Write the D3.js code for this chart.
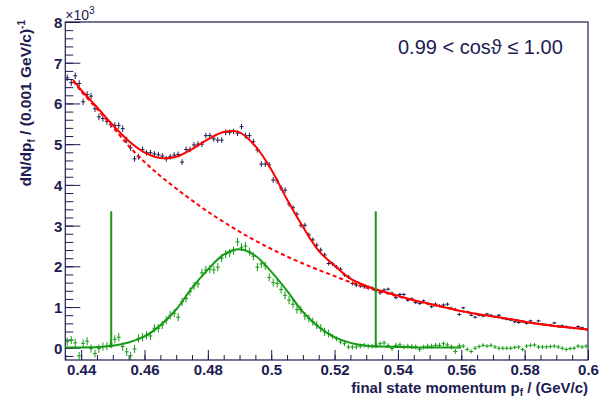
<!DOCTYPE html>
<html><head><meta charset="utf-8">
<script src="https://cdn.jsdelivr.net/npm/d3@7"></script>
<style>body{margin:0;background:#fff}svg{display:block}</style>
</head><body>
<script>
// ---------------- data ----------------
const histMin = 0.435, histMax = 0.6, nBins = 132;

const totalData = [6.63,6.51,6.68,6.49,6.04,6.22,6.18,5.87,5.67,5.63,5.56,5.48,5.46,5.46,5.38,5.10,4.91,4.64,4.69,4.87,
  4.79,4.79,4.76,4.74,4.71,4.64,4.69,4.73,4.75,4.56,4.87,4.87,4.98,5.00,5.00,5.21,5.21,5.13,5.10,5.10,
  5.29,5.29,5.31,5.27,5.43,5.21,5.21,5.06,4.86,4.51,4.51,4.49,4.12,4.10,3.92,3.87,3.53,3.44,3.28,3.01,
  3.01,2.77,2.65,2.52,2.40,2.28,2.07,2.06,1.98,1.93,1.79,1.74,1.58,1.54,1.52,1.50,1.48,1.46,1.40,1.35,
  1.42,1.44,1.34,1.23,1.31,1.31,1.17,1.20,1.11,1.09,1.15,1.09,1.01,1.07,1.03,1.05,1.07,0.97,0.94,0.82,
  0.98,0.88,0.80,0.75,0.80,0.78,0.83,0.80,0.76,0.80,0.72,0.70,0.68,0.64,0.62,0.64,0.60,0.66,0.60,0.66,
  0.58,0.56,0.56,0.61,0.53,0.54,0.52,0.49,0.48,0.52,0.49,0.45];
const totalErr = [0.08,0.08,0.08,0.08,0.08,0.08,0.08,0.08,0.08,0.08,0.08,0.08,0.08,0.08,0.08,0.08,0.08,
  0.07,0.07,0.07,0.07,0.07,0.07,0.07,0.07,0.07,0.07,0.07,0.07,0.07,0.07,0.07,0.07,0.07,0.07,0.07,0.07,0.07,0.07,0.07,
  0.07,0.07,0.07,0.07,0.07,0.07,0.07,0.07,0.07,0.07,0.07,0.07,0.07,0.07,0.07,0.07,
  0.06,0.06,0.06,0.06,0.06,0.06,0.06,0.06,0.06,0.06,
  0.05,0.05,0.05,0.05,0.05,0.05,0.05,0.05,0.05,0.05,0.05,0.05,0.05,0.05,
  0.04,0.04,0.04,0.04,0.04,0.04,0.04,0.04,0.04,0.04,0.04,0.04,0.04,0.04,0.04,0.04,0.04,0.04,0.04,0.04,
  0.03,0.03,0.03,0.03,0.03,0.03,0.03,0.03,0.03,0.03,0.03,0.03,0.03,0.03,0.03,0.03,
  0.03,0.03,0.03,0.03,0.03,0.03,0.03,0.03,0.03,0.03,0.03,0.03,0.03,0.03,0.03,0.03];

const signalData = [0.15,0.19,0.12,-0.20,0.11,0.16,-0.02,-0.14,-0.02,0.03,0.04,0.09,0.21,0.26,0.03,-0.10,-0.20,-0.03,0.23,0.26,
  0.31,0.29,0.48,0.48,0.56,0.68,0.80,0.85,0.75,1.13,1.21,1.38,1.52,1.57,1.84,1.91,1.93,1.91,1.98,2.20,
  2.30,2.33,2.38,2.60,2.47,2.50,2.36,2.25,1.98,2.06,2.01,1.73,1.60,1.58,1.43,1.29,1.17,1.07,0.94,0.93,
  0.78,0.72,0.64,0.56,0.48,0.39,0.35,0.28,0.22,0.14,0.10,0.02,0.02,0.02,0.04,0.06,0.04,0.04,0.06,0.10,
  0.12,0.05,-0.02,0.06,0.07,0.02,0.04,0.03,0.02,-0.04,0.02,0.04,0.04,0.06,0.06,0.10,0.07,0.02,-0.09,0.05,
  0.04,-0.04,-0.09,-0.01,0.03,0.06,0.04,0.06,0.02,-0.01,-0.01,-0.01,-0.01,0.01,0.02,-0.04,0.04,0.06,0.07,0.02,
  0.02,0.02,0.03,0.04,0.02,-0.01,-0.04,-0.02,-0.01,0.04,0.02,0.04];
const signalErr = [0.10,0.10,0.10,0.10,0.10,0.10,0.10,0.10,0.10,0.10,0.10,0.10,0.10,0.10,0.10,0.10,0.10,0.10,0.10,0.10,
  0.10,0.10,0.10,0.10,0.10,0.10,0.10,0.10,0.10,0.10,0.10,0.10,0.10,0.10,0.10,0.10,0.10,0.10,0.10,0.10,
  0.10,0.10,0.10,0.10,0.10,0.10,0.10,0.10,0.10,0.10,0.10,0.10,0.10,0.10,0.10,0.10,0.10,0.10,0.10,0.10,
  0.10,0.10,0.10,0.10,0.10,0.10,0.10,
  0.06,0.06,0.06,0.06,0.06,0.06,0.06,0.06,0.06,0.06,0.06,0.06,0.06,0.06,0.06,0.06,0.06,0.06,0.06,0.06,
  0.06,0.06,0.06,0.06,0.06,0.06,0.06,0.06,0.06,0.06,0.06,0.06,0.06,
  0.05,0.05,0.05,0.05,0.05,0.05,0.05,0.05,0.05,0.05,0.05,0.05,0.05,0.05,0.05,0.05,
  0.05,0.05,0.05,0.05,0.05,0.05,0.05,0.05,0.05,0.05,0.05,0.05,0.05,0.05,0.05,0.05];

const fitX = [0.4375,0.440,0.445,0.450,0.455,0.460,0.465,0.470,0.475,0.480,0.485,0.490,0.495,0.500,0.505,0.510,0.515,
  0.520,0.525,0.530,0.535,0.540,0.545,0.550,0.555,0.560,0.565,0.570,0.575,0.580,0.585,0.590,0.595,0.600];
const fitTotal = [6.57,6.33,5.91,5.47,5.08,4.80,4.66,4.69,4.88,5.12,5.30,5.29,4.95,4.38,3.64,2.97,2.38,
  2.02,1.70,1.52,1.39,1.28,1.17,1.08,0.99,0.90,0.83,0.77,0.71,0.64,0.58,0.53,0.49,0.45];
const fitBackground = [6.55,6.30,5.87,5.42,4.96,4.56,4.22,3.91,3.62,3.34,3.09,2.85,2.63,2.43,2.24,2.07,1.91,
  1.76,1.61,1.48,1.37,1.26,1.16,1.07,0.99,0.90,0.83,0.77,0.71,0.64,0.58,0.53,0.49,0.45];

const sigFitX = [0.435,0.440,0.445,0.450,0.455,0.460,0.465,0.470,0.475,0.480,0.485,0.490,0.495,0.500,0.505,0.510,0.515,
  0.520,0.525,0.530,0.535,0.540,0.545,0.550,0.555,0.560];
const sigFit = [0.01,0.01,0.02,0.05,0.13,0.28,0.55,0.94,1.47,1.92,2.29,2.42,2.26,1.87,1.40,0.88,0.51,
  0.26,0.12,0.05,0.03,0.02,0.01,0.01,0.01,0.01];

const windowLines = [0.4495, 0.533];
const windowTop = 3.35;

const xTickValues = [0.44,0.46,0.48,0.50,0.52,0.54,0.56,0.58,0.60];
const xTickLabels = ["0.44","0.46","0.48","0.5","0.52","0.54","0.56","0.58","0.6"];
const yTickValues = [0,1,2,3,4,5,6,7,8];
const yTickLabels = ["0","1","2","3","4","5","6","7","8"];

const xTitle = "final state momentum p";
const yTitle = "dN/dp";
const rangeLabel = "0.99 < cos\u03D1 \u2264 1.00";

// ---------------- drawing ----------------
const W = 606, H = 401;
const L = 65.3, R = 588, T = 22, B = 360;
const navy = "#1c1c52", red = "#ff0000", green = "#169a16";
const FONT = "'Liberation Sans', Arial, Helvetica, sans-serif";

const svg = d3.select("body").append("svg").attr("width", W).attr("height", H)
  .style("font-family", FONT);
svg.append("rect").attr("width", W).attr("height", H).attr("fill", "#fff");

const x = d3.scaleLinear().domain([histMin, histMax]).range([L, R]);
const y = d3.scaleLinear().domain([-0.3, 8]).range([B, T]);

svg.append("defs").append("clipPath").attr("id", "clip")
  .append("rect").attr("x", L).attr("y", T).attr("width", R - L).attr("height", B - T);

// axes (ticks pointing into the frame)
const xMinor = d3.range(0, 34).map(i => +(histMin + i * 0.005).toFixed(3));
const yMinor = d3.range(-1, 41).map(i => +(i * 0.2).toFixed(1));

const gxm = svg.append("g").attr("transform", `translate(0,${B})`)
  .call(d3.axisBottom(x).tickValues(xMinor).tickSize(-5).tickFormat(""));
const gx = svg.append("g").attr("transform", `translate(0,${B})`)
  .call(d3.axisBottom(x).tickValues(xTickValues).tickSize(-10)
    .tickFormat((d, i) => xTickLabels[i]));
const gym = svg.append("g").attr("transform", `translate(${L},0)`)
  .call(d3.axisLeft(y).tickValues(yMinor).tickSize(-8).tickFormat(""));
const gy = svg.append("g").attr("transform", `translate(${L},0)`)
  .call(d3.axisLeft(y).tickValues(yTickValues).tickSize(-15)
    .tickFormat((d, i) => yTickLabels[i]));

[gxm, gx, gym, gy].forEach(g => {
  g.select(".domain").remove();
  g.selectAll("line").attr("stroke", navy).attr("stroke-width", 1);
});
gx.selectAll("text").attr("y", 15).attr("dy", 0).attr("fill", navy)
  .style("font-size", "15px").style("font-weight", "bold").style("font-family", FONT);
gy.selectAll("text").attr("x", -3).attr("dy", "0.36em").attr("fill", navy)
  .style("font-size", "15px").style("font-weight", "bold").style("font-family", FONT);

// frame
svg.append("rect").attr("x", L).attr("y", T).attr("width", R - L).attr("height", B - T)
  .attr("fill", "none").attr("stroke", navy).attr("stroke-width", 1.2);

// x10^3
const mult = svg.append("text").attr("x", L).attr("y", 19.5).attr("fill", navy)
  .style("font-size", "14px");
mult.append("tspan").text("\u00D710");
mult.append("tspan").attr("dy", -6).style("font-size", "10px").text("3");

const plot = svg.append("g").attr("clip-path", "url(#clip)");

const binW = (histMax - histMin) / nBins;
function drawPoints(vals, errs, color) {
  const g = plot.append("g").attr("stroke", color).attr("stroke-width", 1);
  vals.forEach((v, i) => {
    const c = histMin + (i + 0.5) * binW;
    g.append("line").attr("x1", x(c - binW / 2)).attr("x2", x(c + binW / 2))
      .attr("y1", y(v)).attr("y2", y(v));
    g.append("line").attr("x1", x(c)).attr("x2", x(c))
      .attr("y1", y(v - errs[i])).attr("y2", y(v + errs[i]));
  });
}
drawPoints(totalData, totalErr, navy);
drawPoints(signalData, signalErr, green);

const line = d3.line().x(d => x(d[0])).y(d => y(d[1])).curve(d3.curveCatmullRom);

plot.append("path").datum(fitX.map((d, i) => [d, fitBackground[i]]))
  .attr("d", line).attr("fill", "none").attr("stroke", red).attr("stroke-width", 2)
  .attr("stroke-dasharray", "4,3");
plot.append("path").datum(fitX.map((d, i) => [d, fitTotal[i]]))
  .attr("d", line).attr("fill", "none").attr("stroke", red).attr("stroke-width", 2);
plot.append("path").datum(sigFitX.map((d, i) => [d, sigFit[i]]))
  .attr("d", line).attr("fill", "none").attr("stroke", green).attr("stroke-width", 2);

windowLines.forEach(w => {
  plot.append("line").attr("x1", x(w)).attr("x2", x(w)).attr("y1", y(0)).attr("y2", y(windowTop))
    .attr("stroke", green).attr("stroke-width", 2);
});

// titles
const xt = svg.append("text").attr("x", R).attr("y", 393).attr("text-anchor", "end")
  .attr("fill", navy).style("font-size", "15px").style("font-weight", "bold");
xt.append("tspan").text(xTitle);
xt.append("tspan").attr("dy", 3).style("font-size", "10px").text("f");
xt.append("tspan").attr("dy", -3).text(" / (GeV/c)");

const yt = svg.append("text").attr("transform", "translate(31,20) rotate(-90)")
  .attr("text-anchor", "end").attr("fill", navy)
  .style("font-size", "15.5px").style("font-weight", "bold");
yt.append("tspan").text(yTitle);
yt.append("tspan").attr("dy", 4).style("font-size", "10px").text("f");
yt.append("tspan").attr("dy", -4).text(" / (0.001 GeV/c)");
yt.append("tspan").attr("dy", -6).style("font-size", "10px").text("-1");

svg.append("text").attr("x", 398).attr("y", 54).attr("fill", navy)
  .style("font-size", "20px").text(rangeLabel);
</script>
</body></html>
